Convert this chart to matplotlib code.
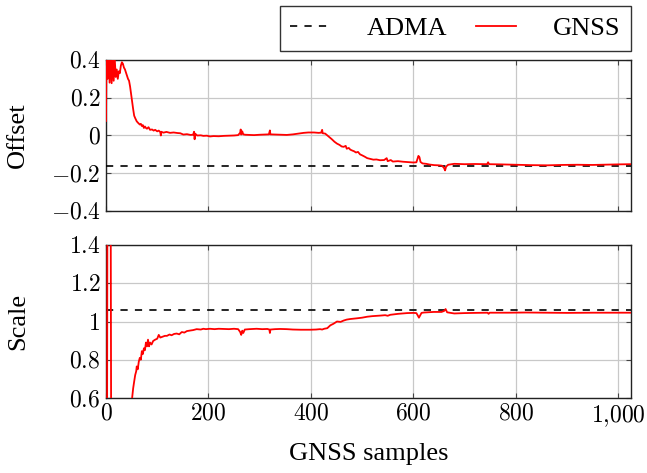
import matplotlib
matplotlib.use("Agg")
import matplotlib.pyplot as plt
from matplotlib.ticker import FuncFormatter, FixedLocator

# ---------------- data ----------------
adma_offset = -0.16
adma_scale = 1.06

off_x = [0, 1, 3, 5, 7, 9, 11, 13, 15, 17, 19, 21, 23, 25, 27, 29, 31, 33, 35, 37,
         40, 43, 45, 47, 49, 51, 53, 55, 57, 60, 63, 66, 68, 70, 72, 74, 76, 78, 80,
         83, 86, 90, 93, 96, 100, 103, 106, 107, 108, 112, 118, 125, 132, 140, 145,
         151, 158, 165, 170, 172, 173, 174, 178, 185, 190, 197, 203, 210, 220, 230,
         240, 250, 258, 262, 263, 264, 266, 268, 272, 280, 289, 300, 310, 318, 320,
         321, 330, 340, 353, 365, 376, 386, 395, 406, 415, 420, 422, 423, 428, 431,
         436, 441, 446, 451, 456, 460, 464, 468, 470, 474, 477, 481, 484, 488, 492,
         496, 500, 505, 510, 516, 522, 528, 535, 543, 548, 550, 556, 560, 570, 580,
         590, 600, 606, 608, 610, 612, 614, 618, 625, 632, 641, 650, 656, 660, 662,
         664, 668, 675, 680, 700, 720, 744, 746, 748, 770, 800, 830, 862, 890, 920,
         950, 980, 1000, 1025]
off_y = [0.077, 0.45, 0.30, 0.50, 0.28, 0.46, 0.277, 0.42, 0.29, 0.41, 0.31, 0.35,
         0.30, 0.34, 0.33, 0.37, 0.388, 0.38, 0.36, 0.35,
         0.325, 0.30, 0.29, 0.26, 0.22, 0.18, 0.14, 0.105, 0.092, 0.075, 0.066, 0.058,
         0.062, 0.050, 0.055, 0.040, 0.048, 0.040, 0.036,
         0.044, 0.030, 0.032, 0.026, 0.030, 0.022, 0.026, 0.018, 0.000, 0.020, 0.015,
         0.019, 0.014, 0.016, 0.013, 0.012,
         0.005, 0.007, 0.003, 0.004, 0.020, -0.020, 0.010, 0.000, 0.001, -0.002,
         -0.001, -0.005, -0.003, -0.004, -0.002,
         -0.001, 0.000, 0.002, 0.015, 0.032, 0.005, 0.022, 0.006, 0.004, 0.003, 0.002,
         0.004, 0.005, 0.006, 0.027,
         0.006, 0.005, 0.004, 0.003, 0.006, 0.010, 0.014, 0.016, 0.016, 0.014, 0.015,
         0.030, 0.012, 0.010, 0.003,
         -0.008, -0.020, -0.033, -0.043, -0.050, -0.058, -0.060, -0.055, -0.070,
         -0.066, -0.075, -0.080, -0.083, -0.090, -0.087,
         -0.100, -0.105, -0.112, -0.120, -0.124, -0.128, -0.127, -0.131, -0.130,
         -0.120, -0.136, -0.130, -0.138, -0.136, -0.139,
         -0.141, -0.143, -0.142, -0.125, -0.108, -0.115, -0.140, -0.148, -0.150,
         -0.154, -0.157, -0.158, -0.160, -0.172, -0.185,
         -0.165, -0.155, -0.152, -0.150, -0.152, -0.151, -0.152, -0.142, -0.152,
         -0.153, -0.155, -0.157, -0.158, -0.156, -0.155,
         -0.156, -0.154, -0.153, -0.152]

sc_x = [0, 2, 3, 6, 9, 10, 12, 20, 30, 40, 48, 51, 53, 55, 57, 59, 60, 62, 64, 66,
        68, 70, 72, 74, 76, 78, 80, 82, 84, 86, 89, 92, 96, 100, 103, 106, 110, 115,
        119, 124, 128, 133, 138, 143, 148, 153, 158, 165, 170, 177, 185, 190, 195,
        203, 212, 220, 230, 240, 250, 258, 262, 264, 266, 268, 271, 280, 294, 305,
        315, 319, 320, 321, 330, 340, 353, 365, 380, 399, 410, 418, 422, 426, 432,
        438, 444, 451, 458, 464, 470, 477, 484, 491, 500, 510, 520, 536, 545, 550,
        555, 570, 588, 600, 606, 609, 611, 613, 616, 621, 640, 655, 660, 663, 666,
        680, 700, 720, 745, 747, 749, 785, 820, 860, 900, 950, 1000, 1025]
sc_y = [0.50, 0.30, 2.00, 2.50, 1.80, 0.50, 0.20, 0.35, 0.42, 0.50, 0.56, 0.60,
        0.65, 0.686, 0.72, 0.74, 0.765, 0.75, 0.79, 0.81,
        0.80, 0.845, 0.83, 0.86, 0.85, 0.89, 0.87, 0.905, 0.87, 0.89, 0.88, 0.898,
        0.905, 0.91, 0.93, 0.916, 0.92, 0.925,
        0.925, 0.932, 0.928, 0.935, 0.937, 0.933, 0.945, 0.942, 0.95, 0.953, 0.955,
        0.96, 0.958, 0.962, 0.96,
        0.962, 0.96, 0.962, 0.961, 0.96, 0.962, 0.96, 0.945, 0.93, 0.952, 0.94,
        0.958, 0.96, 0.962, 0.96,
        0.961, 0.958, 0.94, 0.958, 0.96, 0.961, 0.96, 0.958, 0.957, 0.957, 0.958,
        0.96, 0.958, 0.962, 0.965,
        0.98, 0.988, 1.0, 0.998, 1.005, 1.01, 1.013, 1.015, 1.017, 1.02, 1.025,
        1.028, 1.031, 1.033, 1.03,
        1.035, 1.04, 1.044, 1.045, 1.044, 1.03, 1.02, 1.03, 1.045, 1.047, 1.05,
        1.05, 1.055, 1.065, 1.048,
        1.042, 1.044, 1.045, 1.046, 1.04, 1.046, 1.046, 1.047, 1.046, 1.045, 1.046,
        1.046, 1.046]

off_ticks = [-0.4, -0.2, 0, 0.2, 0.4]
sc_ticks = [0.6, 0.8, 1.0, 1.2, 1.4]
x_ticks = [0, 200, 400, 600, 800, 1000]
x_max = 1025

# ---------------- style ----------------
plt.rcParams['font.family'] = ['Liberation Serif', 'DejaVu Serif']
plt.rcParams['mathtext.fontset'] = 'cm'
plt.rcParams['lines.scale_dashes'] = False
FS_TICK = 17
FS_TEXT = 19


def fmt_num(v, pos=None):
    if abs(v) < 1e-9:
        s = "0"
    elif abs(v - round(v)) < 1e-9:
        iv = int(round(v))
        s = f"{iv:,}".replace(",", "{,}")
    else:
        s = f"{v:.1f}"
    return f"${s}$"


fig = plt.figure(figsize=(6.47, 4.73), dpi=100)
ax1 = fig.add_axes([106/647, 1-211/473, 525/647, 151/473])
ax2 = fig.add_axes([106/647, 1-398/473, 525/647, 153/473])

for ax, xs, ys, adma, ticks, lab in [
        (ax1, off_x, off_y, adma_offset, off_ticks, "Offset"),
        (ax2, sc_x, sc_y, adma_scale, sc_ticks, "Scale")]:
    ax.plot([0, x_max], [adma, adma], color='black', lw=1.2,
            dashes=(5.2, 5.2), label='ADMA', zorder=3)
    ax.plot(xs, ys, color='red', lw=1.3, label='GNSS', zorder=4)
    ax.set_xlim(0, x_max)
    ax.set_ylim(ticks[0], ticks[-1])
    ax.yaxis.set_major_locator(FixedLocator(ticks))
    ax.xaxis.set_major_locator(FixedLocator(x_ticks))
    ax.yaxis.set_major_formatter(FuncFormatter(fmt_num))
    ax.xaxis.set_major_formatter(FuncFormatter(fmt_num))
    ax.grid(True, color='#c8c8c8', lw=0.9, zorder=0)
    ax.tick_params(direction='in', length=3.5, width=0.8, color='#444444',
                   top=True, right=True, labelsize=FS_TICK, pad=4)
    for sp in ax.spines.values():
        sp.set_linewidth(1.0)
        sp.set_color('#222222')
    ax.set_ylabel(lab, fontsize=FS_TEXT, va='center')
    ax.yaxis.set_label_coords((18 - 106) / 525, 0.5)
    ax.set_axisbelow(True)

ax1.tick_params(labelbottom=False)
ax2.set_xlabel("GNSS samples", fontsize=FS_TEXT, labelpad=10)

h, l = ax1.get_legend_handles_labels()
leg = fig.legend(h, l, ncol=2, loc='upper right',
                 bbox_to_anchor=(631/647, 1-6/473), fontsize=FS_TEXT,
                 frameon=True, fancybox=False, edgecolor='black',
                 handlelength=1.5, handletextpad=1.4, columnspacing=1.1,
                 borderpad=0.4, borderaxespad=0)
leg.get_frame().set_linewidth(1.0)

fig.savefig("out.png", dpi=100)
